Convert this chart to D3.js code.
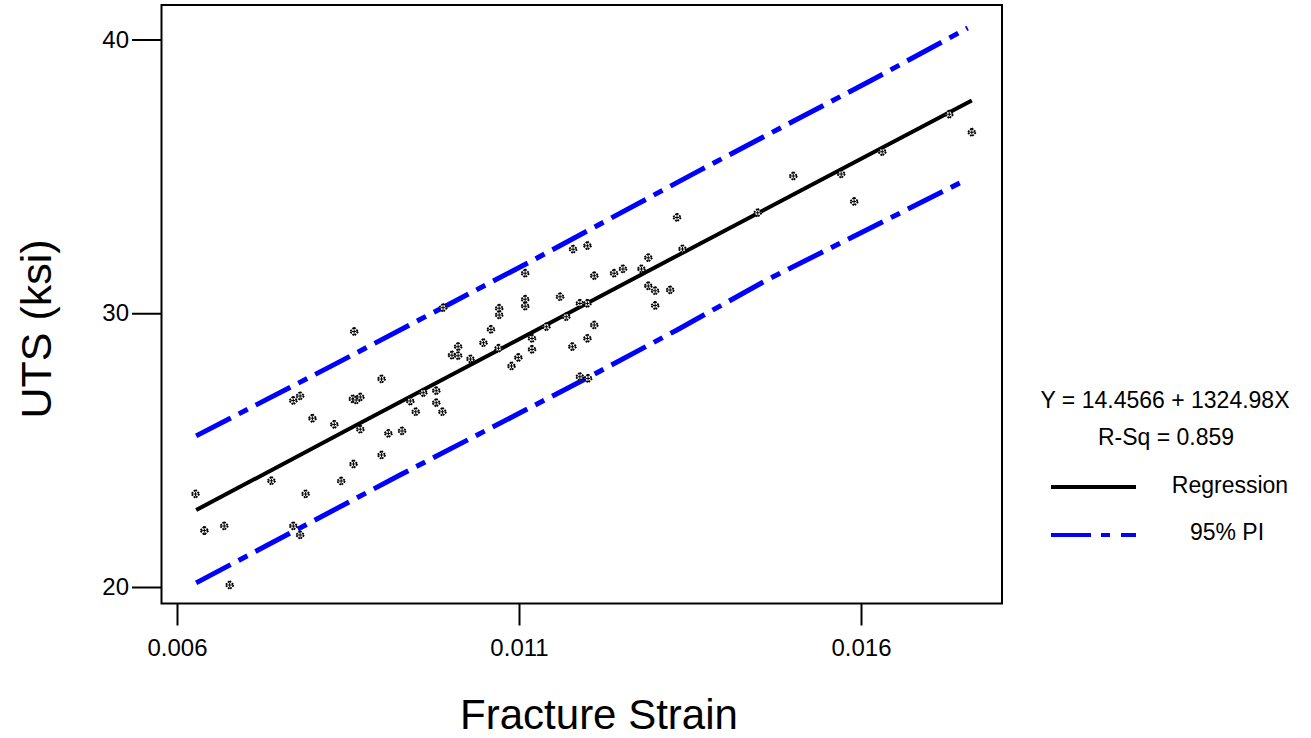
<!DOCTYPE html>
<html>
<head>
<meta charset="utf-8">
<script src="https://cdn.jsdelivr.net/npm/d3@7"></script>
<style>
  body { margin: 0; background: #fff; }
  svg { display: block; font-family: "Liberation Sans", Arial, sans-serif; }
</style>
</head>
<body>
<div class="chart-wrap"></div>
<script>
// fracture strain (x) and UTS in ksi (y)
var strain = [
  0.00627, 0.00640, 0.00669, 0.00677, 0.00738, 0.00770, 0.00780, 0.00788, 0.00770, 0.00780,
  0.00798, 0.00830, 0.00840, 0.00858, 0.00857, 0.00862, 0.00868, 0.00868, 0.00899, 0.00899,
  0.00909, 0.00929, 0.00941, 0.00949, 0.00859, 0.00960, 0.00979, 0.00979, 0.00988, 0.00989,
  0.01002, 0.01011, 0.01011, 0.01029, 0.01048, 0.01059, 0.01070, 0.01071, 0.01071, 0.01089,
  0.01099, 0.01109, 0.01109, 0.01109, 0.01119, 0.01119, 0.01140, 0.01160, 0.01169, 0.01178,
  0.01179, 0.01189, 0.01189, 0.01200, 0.01200, 0.01200, 0.01201, 0.01210, 0.01210, 0.01239,
  0.01252, 0.01279, 0.01289, 0.01289, 0.01299, 0.01299, 0.01321, 0.01331, 0.01339, 0.01449,
  0.01501, 0.01571, 0.01590, 0.01631, 0.01729, 0.01762
];
var uts = [
  23.40, 22.06, 22.23, 20.07, 23.88, 22.23, 21.90, 23.40, 26.81, 26.98,
  26.16, 25.94, 23.87, 24.49, 26.87, 26.83, 26.94, 25.76, 27.60, 24.82,
  25.61, 25.70, 26.79, 26.40, 29.33, 27.10, 27.17, 26.73, 26.40, 30.20,
  28.47, 28.45, 28.78, 28.33, 28.92, 29.41, 28.72, 30.18, 29.94, 28.07,
  28.38, 31.46, 30.51, 30.26, 29.08, 28.68, 29.51, 30.60, 29.87, 28.78,
  32.34, 30.36, 27.68, 30.36, 32.47, 29.08, 27.62, 31.37, 29.57, 31.46,
  31.62, 31.62, 32.03, 31.00, 30.82, 30.28, 30.85, 33.50, 32.35, 33.67,
  35.01, 35.09, 34.08, 35.90, 37.27, 36.61
];

// regression line as drawn
var fitX = [0.00628, 0.0085, 0.011, 0.0135, 0.01762];
var fitY = [22.81, 25.75, 29.05, 32.35, 37.77];

// 95% prediction interval as drawn
var piUpX = [0.00628, 0.00824, 0.01116, 0.01365, 0.01616, 0.01756];
var piUpY = [25.52, 28.05, 31.88, 35.23, 38.52, 40.42];
var piLoX = [0.00628, 0.00926, 0.01194, 0.01331, 0.01462, 0.01755];
var piLoY = [20.15, 24.09, 27.56, 29.39, 31.21, 34.89];

var xTicks = [0.006, 0.011, 0.016];
var yTicks = [20, 30, 40];
var eqText = 'Y = 14.4566 + 1324.98X';
var rsqText = 'R-Sq = 0.859';

var width = 1311, height = 738;
var box = { left: 161.5, top: 5, right: 1002, bottom: 603.5 };

var x = d3.scaleLinear().domain([0.006, 0.016]).range([177, 861]);
var y = d3.scaleLinear().domain([20, 40]).range([587, 39.5]);

var svg = d3.select('.chart-wrap').append('svg')
  .attr('width', width)
  .attr('height', height);

// plot frame
svg.append('rect')
  .attr('x', box.left)
  .attr('y', box.top)
  .attr('width', box.right - box.left)
  .attr('height', box.bottom - box.top)
  .style('fill', 'none')
  .style('stroke', '#000')
  .style('stroke-width', 2);

var xAxis = svg.append('g')
  .attr('transform', 'translate(0,' + box.bottom + ')')
  .call(d3.axisBottom(x).tickValues(xTicks).tickFormat(d3.format('.3f')).tickSize(22).tickPadding(13));
var yAxis = svg.append('g')
  .attr('transform', 'translate(' + box.left + ',0)')
  .call(d3.axisLeft(y).tickValues(yTicks).tickSize(29.5).tickPadding(3));

[xAxis, yAxis].forEach(function(g) {
  g.select('.domain').remove();
  g.selectAll('.tick line').style('stroke', '#000').style('stroke-width', 2);
  g.selectAll('.tick text')
    .style('font-family', '"Liberation Sans", Arial, sans-serif')
    .style('font-size', '24px')
    .style('fill', '#000');
});

// axis titles
svg.append('text')
  .attr('x', 599)
  .attr('y', 729)
  .attr('text-anchor', 'middle')
  .style('font-size', '42px')
  .text('Fracture Strain');

svg.append('text')
  .attr('transform', 'translate(51,329) rotate(-90)')
  .attr('text-anchor', 'middle')
  .style('font-size', '43px')
  .text('UTS (ksi)');

var line = d3.line()
  .x(function(d) { return x(d[0]); })
  .y(function(d) { return y(d[1]); });

var piDash = '39,9,10,9';

svg.append('path')
  .datum(d3.zip(piUpX, piUpY))
  .attr('d', line)
  .style('fill', 'none')
  .style('stroke', '#0000ff')
  .style('stroke-width', 5)
  .style('stroke-dasharray', piDash);

svg.append('path')
  .datum(d3.zip(piLoX, piLoY))
  .attr('d', line)
  .style('fill', 'none')
  .style('stroke', '#0000ff')
  .style('stroke-width', 5)
  .style('stroke-dasharray', piDash);

svg.append('path')
  .datum(d3.zip(fitX, fitY))
  .attr('d', line)
  .style('fill', 'none')
  .style('stroke', '#000')
  .style('stroke-width', 4);

// data points, small hatched diamonds
var diamond = d3.symbol().type(d3.symbolSquare).size(34);
var pts = svg.append('g').selectAll('g')
  .data(d3.zip(strain, uts))
  .enter().append('g')
  .attr('transform', function(d) {
    return 'translate(' + x(d[0]) + ',' + y(d[1]) + ') rotate(45)';
  });
pts.append('path')
  .attr('d', diamond)
  .style('fill', '#fff')
  .style('stroke', '#000')
  .style('stroke-width', 1.8)
  .style('stroke-dasharray', '2,1');
pts.append('path')
  .attr('d', 'M-1.5,-1.5L1.5,1.5M-1.5,1.5L1.5,-1.5')
  .style('stroke', '#000')
  .style('stroke-width', 1);

// legend
var legend = svg.append('g').style('font-size', '23px');
legend.append('text').attr('x', 1165).attr('y', 408).attr('text-anchor', 'middle').text(eqText);
legend.append('text').attr('x', 1166).attr('y', 445).attr('text-anchor', 'middle').text(rsqText);

legend.append('line')
  .attr('x1', 1051).attr('x2', 1136).attr('y1', 487).attr('y2', 487)
  .style('stroke', '#000').style('stroke-width', 4);
legend.append('text').attr('x', 1230).attr('y', 493).attr('text-anchor', 'middle').text('Regression');

legend.append('line')
  .attr('x1', 1051).attr('x2', 1136).attr('y1', 535).attr('y2', 535)
  .style('stroke', '#0000ff').style('stroke-width', 4)
  .style('stroke-dasharray', '40,10,9,11');
legend.append('text').attr('x', 1227).attr('y', 540).attr('text-anchor', 'middle').text('95% PI');
</script>
</body>
</html>
